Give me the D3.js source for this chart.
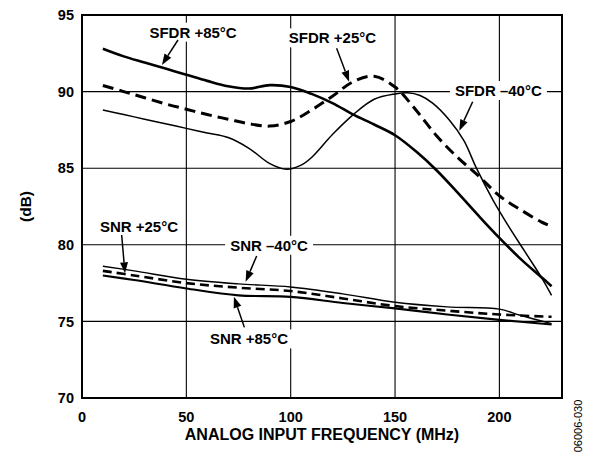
<!DOCTYPE html>
<html><head><meta charset="utf-8">
<script src="https://cdn.jsdelivr.net/npm/d3@7"></script>
<style>body{margin:0;background:#fff}svg{display:block}text{font-family:"Liberation Sans",Arial,Helvetica,sans-serif;font-weight:bold;fill:#000}</style>
</head><body>
<script>
// ---- data ----
const xTicks = [0, 50, 100, 150, 200];
const yTicks = [70, 75, 80, 85, 90, 95];
const sfdr85 = [[10,92.8],[20,92.3],[30,91.9],[40,91.5],[50,91.1],[60,90.7],[70,90.35],[80,90.2],[90,90.42],[100,90.3],[110,89.85],[120,89.25],[130,88.5],[140,87.85],[150,87.15],[160,86.1],[170,84.85],[180,83.4],[190,81.9],[200,80.45],[210,79.1],[220,77.9],[225,77.3]];
const sfdr25 = [[10,90.4],[20,90.0],[30,89.6],[40,89.2],[50,88.85],[60,88.5],[70,88.2],[80,87.9],[90,87.75],[100,88.05],[110,88.8],[120,89.7],[130,90.65],[140,91.0],[150,90.3],[160,88.8],[170,87.1],[180,85.7],[190,84.5],[200,83.2],[210,82.3],[220,81.5],[225,81.2]];
const sfdrM40 = [[10,88.8],[20,88.5],[30,88.2],[40,87.9],[50,87.6],[60,87.3],[70,87.0],[80,86.3],[90,85.3],[98,84.93],[105,85.2],[110,85.7],[120,87.2],[130,88.5],[140,89.5],[150,89.85],[156,89.93],[162,89.75],[168,89.25],[176,88.15],[183,86.8],[189,85.0],[197,82.9],[204,81.3],[212,79.6],[220,77.9],[225,76.7]];
const snrM40 = [[10,78.6],[25,78.3],[50,77.75],[75,77.45],[100,77.25],[125,76.8],[150,76.25],[175,75.95],[200,75.8],[210,75.4],[225,74.85]];
const snr25 = [[10,78.3],[25,78.0],[50,77.5],[75,77.2],[100,76.98],[125,76.5],[150,76.0],[175,75.7],[200,75.45],[225,75.3]];
const snr85 = [[10,78.0],[25,77.7],[50,77.15],[75,76.7],[100,76.6],[125,76.2],[150,75.85],[175,75.45],[200,75.1],[225,74.8]];
// annotations: label anchor (f, dB), arrow from -> to (f, dB)
const labels = [
  {t:"SFDR +85°C", at:[53.2,93.52], from:[46,93.37], to:[38.3,91.74]},
  {t:"SFDR +25°C", at:[120,93.15], from:[122,92.83], to:[128,90.65]},
  {t:"SFDR –40°C", at:[199.5,89.71], from:[187.2,89.34], to:[180.8,87.45]},
  {t:"SNR +25°C", at:[27.3,80.86], from:[19,80.64], to:[20.6,78.14]},
  {t:"SNR –40°C", at:[89.6,79.61], from:[83.7,79.27], to:[78.4,77.59]},
  {t:"SNR +85°C", at:[80,73.5], from:[77.8,74.61], to:[72.8,76.61]}
];

const W = 597, H = 457;
const L = 82, R = 562, T = 15, B = 398;
const svg = d3.select("body").append("svg").attr("width", W).attr("height", H);
const x = d3.scaleLinear().domain([0, 230]).range([L, R]);
const y = d3.scaleLinear().domain([70, 95]).range([B, T]);

// gridlines
const grid = svg.append("g").attr("stroke", "#000").attr("stroke-width", 1.1);
grid.selectAll(".vx").data(xTicks.filter(d => d > 0)).join("line")
  .attr("x1", d => x(d)).attr("x2", d => x(d)).attr("y1", T).attr("y2", B);
grid.selectAll(".hy").data(yTicks.filter(d => d > 70 && d < 95)).join("line")
  .attr("y1", d => y(d)).attr("y2", d => y(d)).attr("x1", L).attr("x2", R);

// curves
const line = d3.line().x(d => x(d[0])).y(d => y(d[1])).curve(d3.curveCatmullRom.alpha(0.5));
const series = [
  {d:sfdr85, w:2.6, dash:null},
  {d:sfdr25, w:3.0, dash:"11,6"},
  {d:sfdrM40, w:1.5, dash:null},
  {d:snrM40, w:1.4, dash:null},
  {d:snr25, w:2.6, dash:"9,5"},
  {d:snr85, w:2.1, dash:null}
];
svg.append("g").selectAll("path").data(series).join("path")
  .attr("d", s => line(s.d)).attr("fill", "none").attr("stroke", "#000")
  .attr("stroke-width", s => s.w).attr("stroke-dasharray", s => s.dash);

// labels with white backgrounds
const lg = svg.append("g");
labels.forEach(a => {
  const t = lg.append("text").attr("x", x(a.at[0])).attr("y", y(a.at[1]))
    .attr("text-anchor", "middle").attr("font-size", 15).text(a.t);
  const bb = t.node().getBBox();
  lg.insert("rect", "text").attr("x", bb.x - 5).attr("y", bb.y - 1)
    .attr("width", bb.width + 10).attr("height", bb.height + 2).attr("fill", "#fff");
  // arrow
  const x1 = x(a.from[0]), y1 = y(a.from[1]), x2 = x(a.to[0]), y2 = y(a.to[1]);
  const ang = Math.atan2(y2 - y1, x2 - x1), hl = 11, hw = 4;
  const bx = x2 - hl * Math.cos(ang), by = y2 - hl * Math.sin(ang);
  lg.append("line").attr("x1", x1).attr("y1", y1).attr("x2", bx).attr("y2", by)
    .attr("stroke", "#000").attr("stroke-width", 1.5);
  lg.append("path").attr("fill", "#000").attr("d",
    `M${x2},${y2}L${bx + hw*Math.sin(ang)},${by - hw*Math.cos(ang)}L${bx - hw*Math.sin(ang)},${by + hw*Math.cos(ang)}Z`);
});

// frame
svg.append("rect").attr("x", L).attr("y", T).attr("width", R - L).attr("height", B - T)
  .attr("fill", "none").attr("stroke", "#000").attr("stroke-width", 2);

// tick labels
svg.append("g").selectAll("text").data(yTicks).join("text")
  .attr("x", L - 8).attr("y", d => y(d)).attr("dy", "0.36em")
  .attr("text-anchor", "end").attr("font-size", 14.5).text(d => d);
svg.append("g").selectAll("text").data(xTicks).join("text")
  .attr("x", d => x(d)).attr("y", 422)
  .attr("text-anchor", "middle").attr("font-size", 14.5).text(d => d);

// axis titles
svg.append("text").attr("x", (L + R) / 2).attr("y", 440).attr("text-anchor", "middle")
  .attr("font-size", 16).text("ANALOG INPUT FREQUENCY (MHz)");
svg.append("text").attr("transform", `translate(31,${(T + B) / 2}) rotate(-90)`)
  .attr("text-anchor", "middle").attr("font-size", 15.5).text("(dB)");
svg.append("text").attr("transform", "translate(582,426) rotate(-90)")
  .attr("text-anchor", "middle").attr("font-size", 11).style("font-weight", "normal")
  .attr("fill", "#333").text("06006-030");
</script>
</body></html>
